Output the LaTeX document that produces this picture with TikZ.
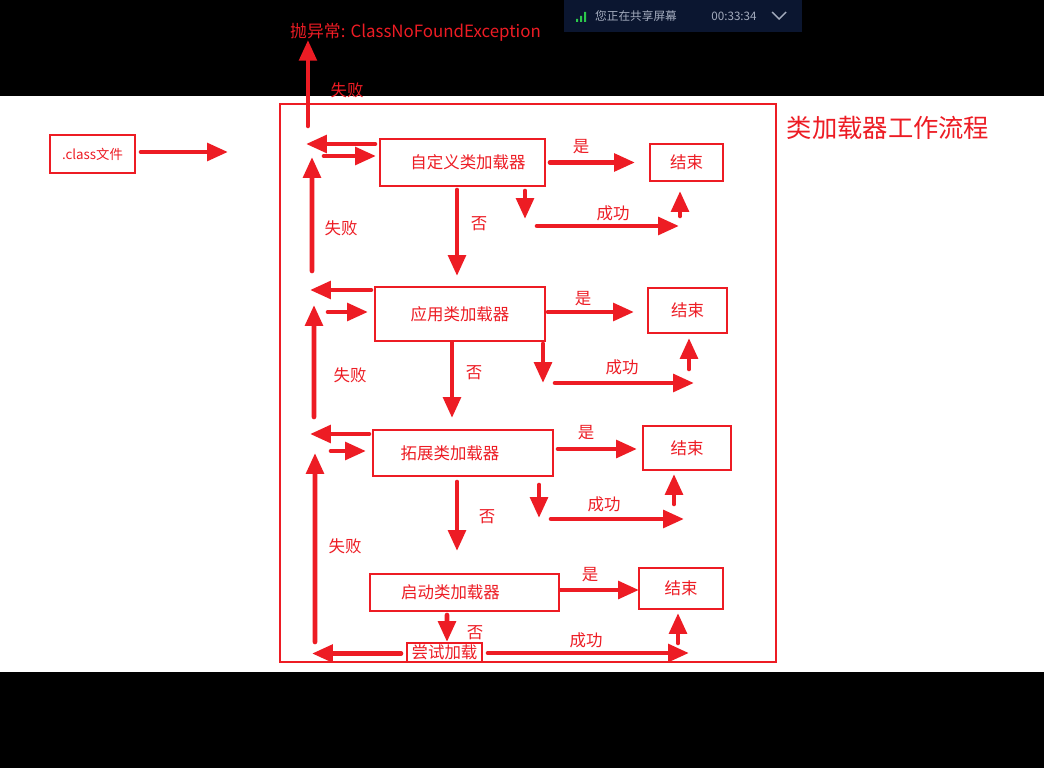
\documentclass[tikz,border=0pt]{standalone}
\usepackage{fontspec}
\setmainfont{Noto Sans CJK SC}
\usetikzlibrary{arrows.meta,positioning,calc}
\definecolor{hired}{HTML}{ED1C24}
\definecolor{barbg}{HTML}{0B1630}
\definecolor{bartxt}{HTML}{A3ABBD}
\definecolor{bargreen}{HTML}{2CC84B}

\begin{document}
\begin{tikzpicture}[
  x=0.025cm, y=-0.025cm,
  loader/.style={
    rectangle, draw=hired, line width=1.4pt, inner sep=0pt,
    text=hired, font=\fontsize{11.7pt}{14pt}\selectfont},
  lbl/.style={text=hired, inner sep=0pt, font=\fontsize{11.7pt}{14pt}\selectfont},
  arr/.style={color=hired, line width=3.3pt, line cap=round,
    -{Triangle[length=0.52cm, width=0.43cm]}},
]
  % page: black bands, white sheet
  \fill[black] (0,0) rectangle (1044,768);
  \fill[white] (0,96) rectangle (1044,672);

  % screen sharing bar
  \fill[barbg] (564,0) rectangle (802,32);
  \fill[bargreen] (576,19) rectangle (578,22) (580,16) rectangle (582,22) (584,12) rectangle (586,22);
  \node[text=bartxt, inner sep=0pt, font=\fontsize{8.3pt}{10pt}\selectfont] (share) at (636,16) {您正在共享屏幕};
  \node[text=bartxt, inner sep=0pt, font=\fontsize{8.3pt}{10pt}\selectfont] (clock) at (734,16) {00:33:34};
  \draw[bartxt, line width=1pt] (772,12) -- (779,19) -- (786,12);

  % nodes
  \node[lbl, font=\fontsize{12pt}{15pt}\selectfont] (exc) at (415.5,32) {抛异常: ClassNoFoundException};
  \node[lbl, font=\fontsize{18pt}{21pt}\selectfont] (title) at (888,128) {类加载器工作流程};
  \node[loader, minimum width=12.4cm, minimum height=13.95cm] (frame) at (528,383) {};
  \node[loader, font=\fontsize{9.5pt}{12pt}\selectfont,
        minimum width=2.125cm, minimum height=0.95cm] (cls) at (92.5,154) {.class文件};

  \node[loader, minimum width=4.125cm, minimum height=1.175cm] (b1) at (462.5,162.5) {\hspace*{0.275cm}自定义类加载器};
  \node[loader, minimum width=4.25cm,  minimum height=1.35cm]  (b2) at (460,314)     {应用类加载器};
  \node[loader, minimum width=4.5cm,   minimum height=1.15cm]  (b3) at (463,453)     {拓展类加载器\hspace*{0.65cm}};
  \node[loader, minimum width=4.725cm, minimum height=0.925cm] (b4) at (464.5,592.5) {启动类加载器\hspace*{0.7cm}};
  \node[loader, minimum width=1.875cm, minimum height=0.475cm] (try) at (444.5,652.5) {尝试加载};

  \node[loader, minimum width=1.825cm, minimum height=0.925cm] (e1) at (686.5,162.5) {结束};
  \node[loader, minimum width=1.975cm, minimum height=1.125cm] (e2) at (687.5,310.5) {结束};
  \node[loader, minimum width=2.2cm,   minimum height=1.1cm]   (e3) at (687,448)     {结束};
  \node[loader, minimum width=2.1cm,   minimum height=1.025cm] (e4) at (681,588.5)   {结束};

  % labels
  \node[lbl] (f0) at (347,90)  {失败};
  \node[lbl] (f1) at (341,228) {失败};
  \node[lbl] (f2) at (350,375) {失败};
  \node[lbl] (f3) at (345,546) {失败};
  \node[lbl] (y1) at (581,147) {是};
  \node[lbl] (y2) at (583,299) {是};
  \node[lbl] (y3) at (586,433) {是};
  \node[lbl] (y4) at (590,575) {是};
  \node[lbl] (n1) at (479,224) {否};
  \node[lbl] (n2) at (474,373) {否};
  \node[lbl] (n3) at (487,517) {否};
  \node[lbl] (n4) at (475,633) {否};
  \node[lbl] (s1) at (613,213) {成功};
  \node[lbl] (s2) at (622,367) {成功};
  \node[lbl] (s3) at (604,504) {成功};
  \node[lbl] (s4) at (586,640) {成功};

  % input
  \draw[arr] ($(cls.east)+(5,-2)$) -- ++(87,0);
  \draw[arr] ($(frame.north west)+(29,23)$) -- ++(0,-86);

  % custom loader
  \draw[arr] ($(b1.west)+(-4,-18.5)$) -- ++(-69,0);
  \draw[arr] ($(b1.west)+(-55,-6.5)$) -- ($(b1.west)+(-3,-6.5)$);
  \draw[arr] ($(b2.north west)+(-62,-15)$) -- ($(b1.west)+(-67,-5.5)$);
  \draw[arr] ($(b1.east)+(4,0)$) -- ($(e1.west)+(-14,0)$);
  \draw[arr] ($(b1.south)+(-5.5,3)$) -- ++(0,86);
  \draw[arr] ($(b1.south east)+(-21,4)$) -- ++(0,28);
  \draw[arr] ($(b1.south east)+(-9,39)$) -- ++(142,0);
  \draw[arr] ($(e1.south)+(-6.5,34)$) -- ($(e1.south)+(-6.5,9)$);

  % application loader
  \draw[arr] ($(b2.west)+(-3,-24)$) -- ++(-61,0);
  \draw[arr] ($(b2.west)+(-46,-2)$) -- ($(b2.west)+(-6,-2)$);
  \draw[arr] ($(b3.north west)+(-58,-12)$) -- ($(b2.west)+(-60,-9)$);
  \draw[arr] ($(b2.east)+(2,-2)$) -- ++(86,0);
  \draw[arr] ($(b2.south)+(-8,1)$) -- ++(0,75);
  \draw[arr] ($(b2.south east)+(-3,2)$) -- ++(0,39);
  \draw[arr] ($(b2.south east)+(9,41)$) -- ++(139,0);
  \draw[arr] ($(e2.south)+(1.5,35)$) -- ($(e2.south)+(1.5,4)$);

  % extension loader
  \draw[arr] ($(b3.west)+(-3,-19)$) -- ++(-59,0);
  \draw[arr] ($(b3.west)+(-41,-2)$) -- ($(b3.west)+(-6,-2)$);
  \draw[arr] ($(try.west)+(-91,-10.5)$) -- ($(b3.west)+(-57,0)$);
  \draw[arr] ($(b3.east)+(4,-4)$) -- ++(79,0);
  \draw[arr] ($(b3.south)+(-6,5)$) -- ++(0,69);
  \draw[arr] ($(b3.south east)+(-15,8)$) -- ++(0,33);
  \draw[arr] ($(b3.south east)+(-3,42)$) -- ++(133,0);
  \draw[arr] ($(e3.south)+(-13,33)$) -- ($(e3.south)+(-13,3)$);

  % bootstrap loader
  \draw[arr] ($(b4.east)+(1,-2.5)$) -- ++(78,0);
  \draw[arr] ($(b4.south)+(-17.5,3)$) -- ($(try.north)+(2.5,0)$);
  \draw[arr] ($(try.west)+(-5,1)$) -- ++(-89,0);
  \draw[arr] ($(try.east)+(5,0.5)$) -- ++(201,0);
  \draw[arr] ($(e4.south)+(-3,33)$) -- ($(e4.south)+(-3,3)$);
\end{tikzpicture}
\end{document}
